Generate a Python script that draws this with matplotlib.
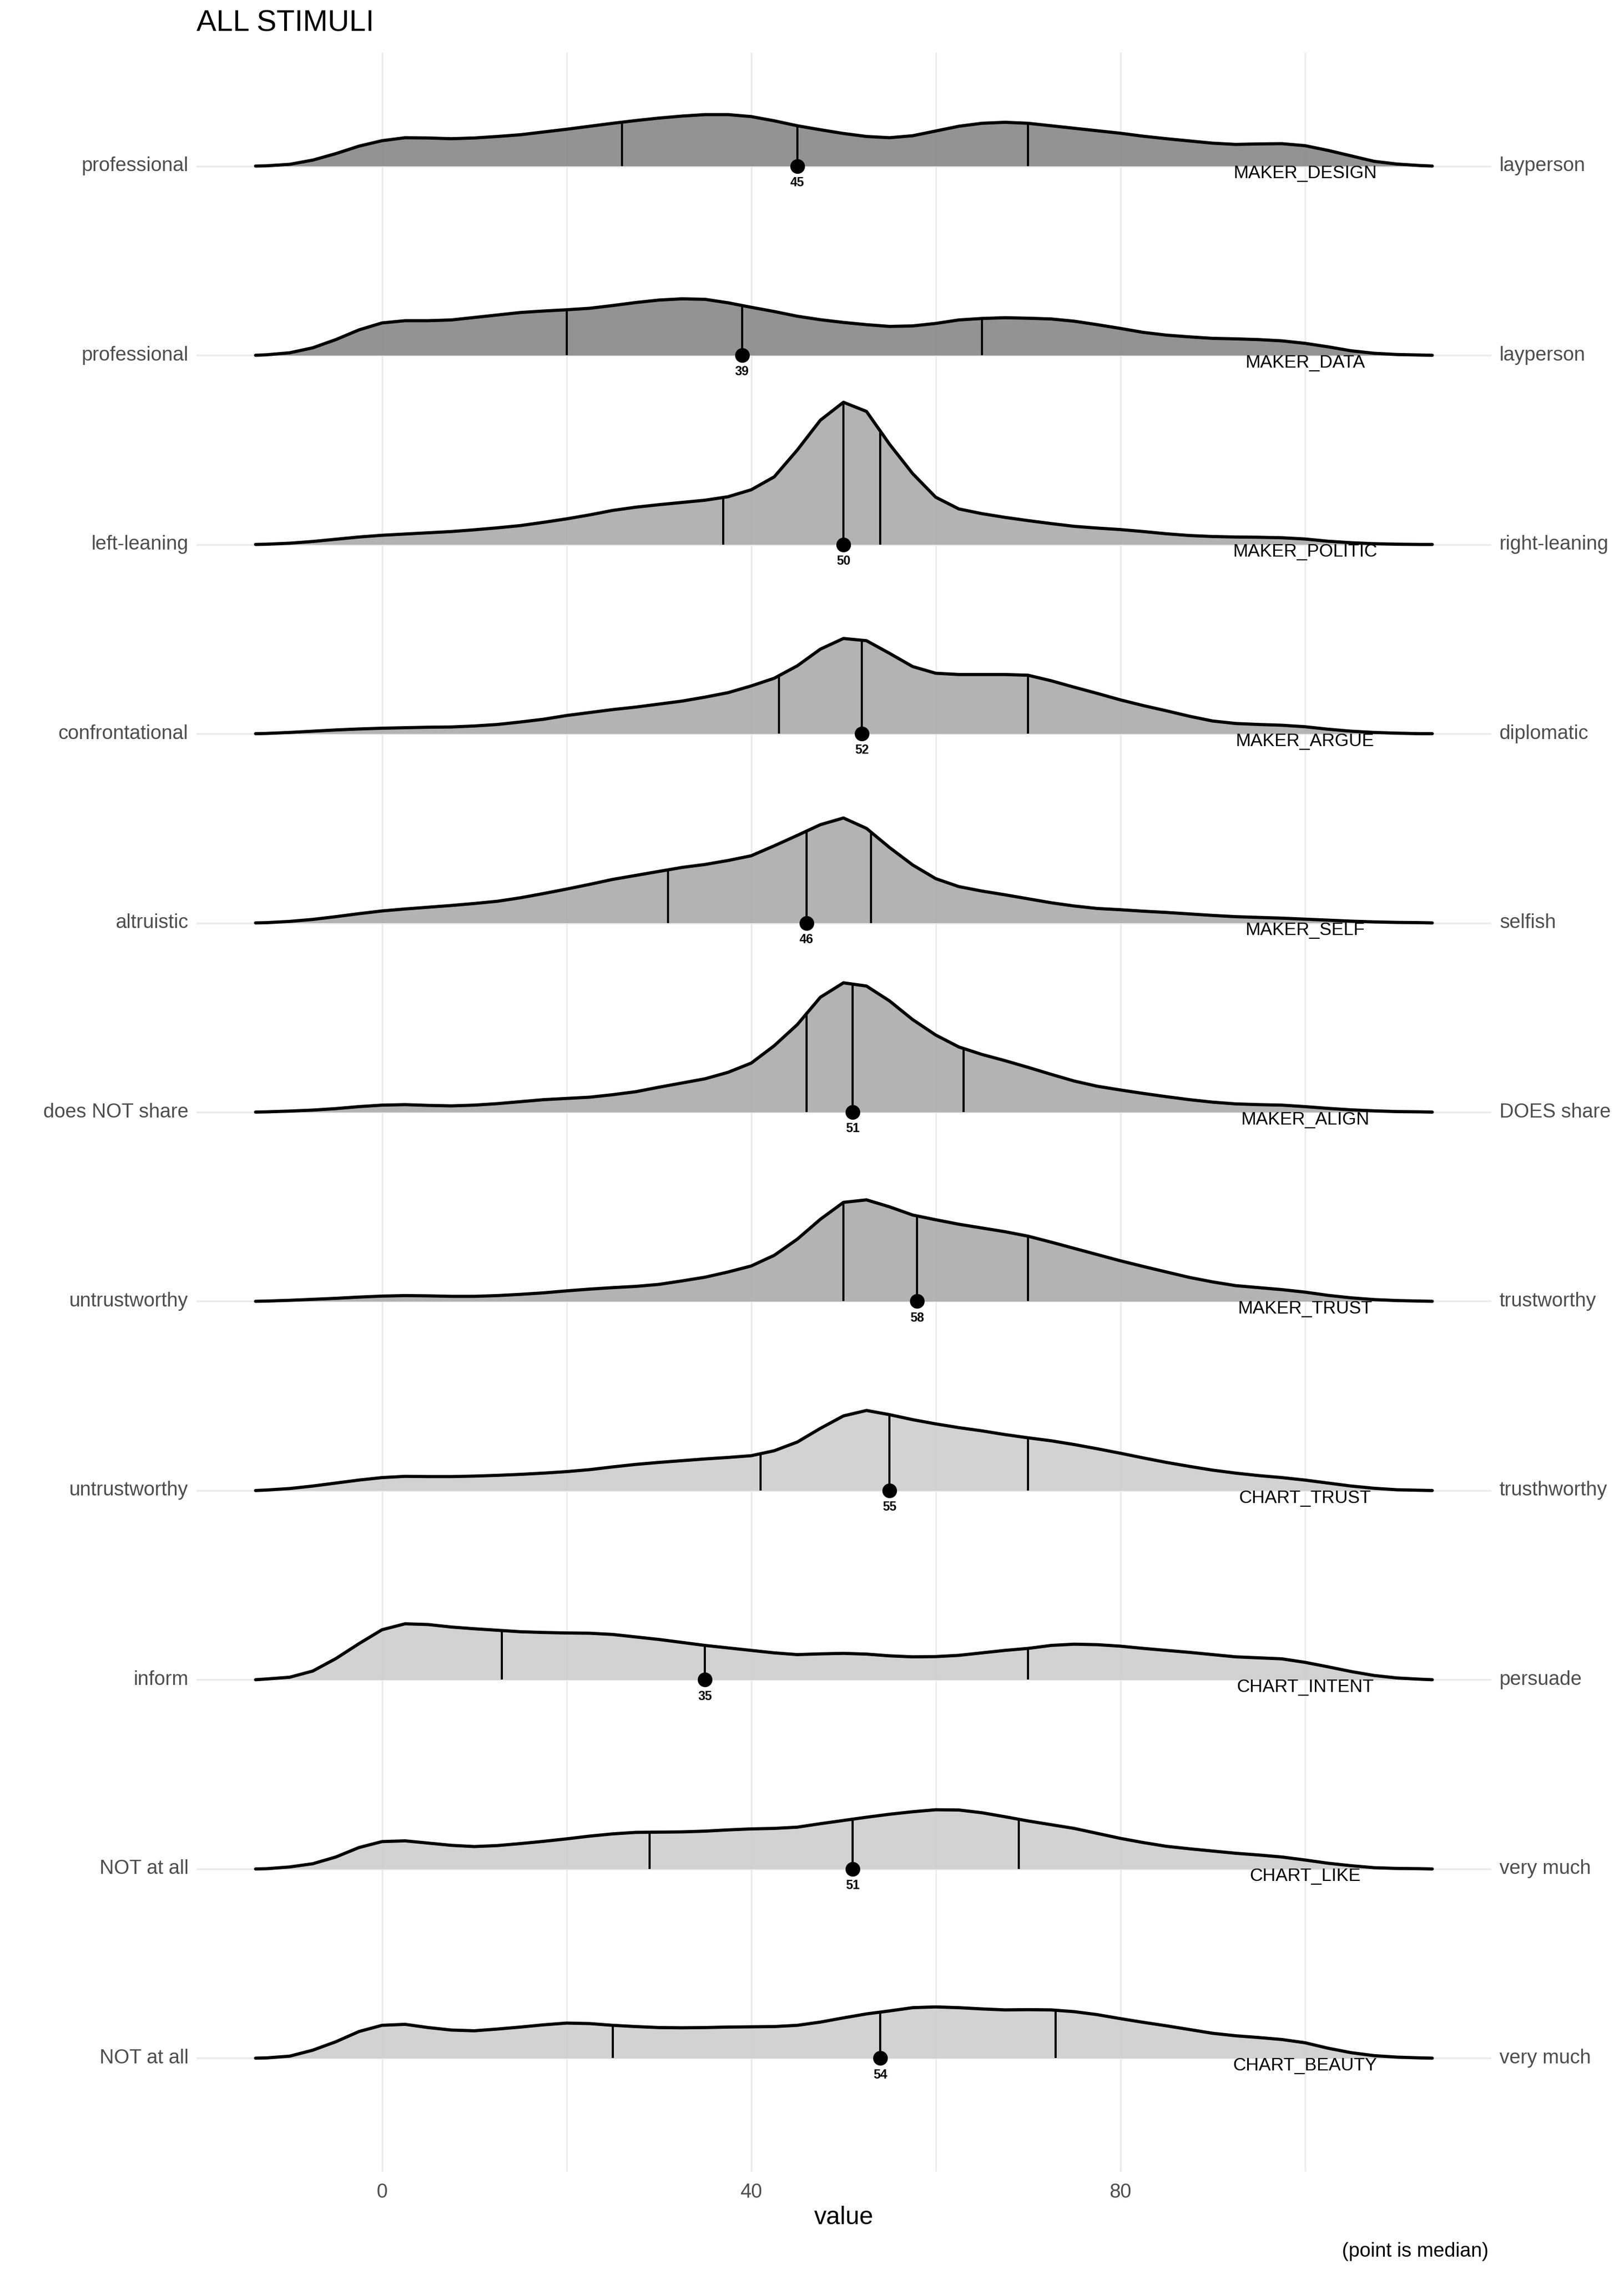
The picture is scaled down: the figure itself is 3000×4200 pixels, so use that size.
#!/usr/bin/env python3
"""
plot.py -- ridgeline chart of the stimulus ratings ("ALL STIMULI").
Densities, quartile lines and the median dot + label per scale, one row each.
"""
import matplotlib
matplotlib.use("Agg")
import matplotlib.pyplot as plt
import matplotlib.transforms as mtransforms
import numpy as np

plt.rcParams["font.family"] = ["Liberation Sans", "DejaVu Sans"]

# ---- data -------------------------------------------------------------------
SCALES = ["MAKER_DESIGN", "MAKER_DATA", "MAKER_POLITIC", "MAKER_ARGUE", "MAKER_SELF",
          "MAKER_ALIGN", "MAKER_TRUST", "CHART_TRUST", "CHART_INTENT", "CHART_LIKE",
          "CHART_BEAUTY"]
LOW_LABELS = ["professional", "professional", "left-leaning", "confrontational", "altruistic",
              "does NOT share", "untrustworthy", "untrustworthy", "inform", "NOT at all",
              "NOT at all"]
HIGH_LABELS = ["layperson", "layperson", "right-leaning", "diplomatic", "selfish",
               "DOES share", "trustworthy", "trusthworthy", "persuade", "very much",
               "very much"]
GROUP = ["maker_a", "maker_a", "maker_b", "maker_b", "maker_b", "maker_b", "maker_b",
         "chart", "chart", "chart", "chart"]

MEDIANS = [45, 39, 50, 52, 46, 51, 58, 55, 35, 51, 54]
Q1 = [26, 20, 37, 43, 31, 46, 50, 41, 13, 29, 25]
Q3 = [70, 65, 54, 70, 53, 63, 70, 70, 70, 69, 73]

# sample positions of the density curves
XS = [-13.7, -12.5, -10, -7.5, -5, -2.5, 0, 2.5, 5, 7.5, 10, 12.5, 15, 17.5, 20, 22.5,
      25, 27.5, 30, 32.5, 35, 37.5, 40, 42.5, 45, 47.5, 50, 52.5, 55, 57.5, 60, 62.5,
      65, 67.5, 70, 72.5, 75, 77.5, 80, 82.5, 85, 87.5, 90, 92.5, 95, 97.5, 100, 102.5,
      105, 107.5, 110, 112.5, 113.8]

# ridge heights (relative density units) at XS
maker_design = [0, 1, 7, 24, 50, 80, 102, 114, 113, 110, 113, 119, 126, 137, 148, 160, 172,
                183, 193, 201, 207, 207, 199, 182, 162, 146, 131, 119, 114, 122, 141, 160,
                172, 176, 172, 162, 152, 142, 132, 120, 110, 101, 92, 87, 89, 90, 82, 63,
                41, 19, 8, 2, 0]
maker_data = [0, 2, 10, 30, 63, 102, 130, 139, 139, 142, 152, 162, 172, 178, 183, 189, 200,
              212, 222, 227, 225, 211, 193, 176, 157, 143, 132, 123, 116, 118, 128, 142, 148,
              151, 149, 146, 137, 123, 108, 92, 81, 74, 68, 66, 63, 58, 48, 34, 18, 8, 3, 1,
              0]
maker_politic = [0, 1, 5, 12, 21, 30, 37, 42, 47, 52, 59, 67, 76, 89, 103, 119, 137, 150,
                 160, 169, 178, 192, 220, 272, 380, 500, 572, 535, 403, 285, 190, 143, 124,
                 109, 96, 84, 73, 66, 60, 52, 43, 36, 32, 30, 29, 27, 22, 13, 7, 3, 1, 0, 0]
maker_argue = [0, 1, 5, 10, 15, 19, 22, 24, 26, 27, 31, 37, 47, 58, 73, 85, 97, 107, 119,
               131, 147, 165, 192, 223, 273, 340, 383, 374, 323, 270, 243, 238, 238, 238,
               235, 213, 187, 162, 136, 113, 92, 70, 51, 41, 37, 34, 28, 18, 10, 5, 2, 0, 0]
maker_self = [0, 1, 6, 14, 25, 37, 48, 56, 63, 70, 78, 87, 101, 118, 136, 155, 175, 191, 207,
              223, 235, 251, 270, 310, 352, 395, 422, 380, 303, 233, 178, 146, 128, 113, 97,
              81, 68, 58, 53, 47, 42, 36, 30, 25, 22, 19, 15, 11, 7, 4, 2, 1, 0]
maker_align = [0, 1, 4, 8, 14, 22, 28, 30, 27, 25, 28, 34, 42, 50, 55, 60, 70, 82, 100, 117,
               134, 160, 197, 267, 352, 462, 520, 507, 447, 372, 310, 262, 232, 207, 180,
               152, 125, 104, 89, 75, 62, 50, 40, 33, 30, 28, 22, 15, 9, 5, 2, 1, 0]
maker_trust = [0, 1, 4, 8, 12, 17, 21, 23, 22, 20, 20, 23, 28, 34, 42, 49, 55, 60, 68, 82,
               97, 118, 142, 185, 250, 330, 398, 408, 380, 347, 328, 310, 295, 280, 262,
               238, 213, 188, 163, 140, 118, 96, 78, 63, 55, 47, 37, 24, 14, 7, 3, 1, 0]
chart_trust = [0, 2, 8, 18, 30, 42, 52, 57, 56, 56, 58, 61, 65, 70, 76, 84, 95, 105, 113,
               120, 127, 133, 140, 160, 195, 250, 300, 322, 305, 285, 268, 253, 240, 225,
               212, 200, 185, 168, 150, 131, 113, 97, 82, 70, 60, 52, 42, 30, 18, 9, 3, 1, 0]
chart_intent = [0, 3, 10, 35, 85, 145, 201, 225, 222, 212, 205, 199, 193, 190, 188, 187,
                182, 172, 162, 150, 138, 128, 118, 108, 101, 104, 106, 103, 96, 92, 93, 98,
                108, 118, 126, 138, 143, 141, 135, 126, 118, 110, 101, 92, 88, 84, 70, 52,
                33, 17, 7, 2, 0]
chart_like = [0, 1, 8, 21, 48, 86, 110, 113, 104, 95, 90, 94, 102, 111, 121, 132, 141, 147,
              148, 149, 152, 157, 161, 163, 168, 182, 195, 208, 220, 230, 238, 237, 226, 210,
              193, 178, 163, 143, 123, 106, 91, 81, 72, 63, 56, 48, 36, 23, 13, 5, 2, 1, 0]
chart_beauty = [0, 1, 8, 32, 66, 107, 132, 136, 123, 113, 110, 117, 125, 134, 141, 139, 132,
                127, 123, 122, 123, 125, 126, 127, 132, 145, 162, 178, 190, 203, 206, 203,
                198, 194, 195, 194, 187, 175, 159, 144, 130, 115, 100, 90, 83, 75, 62, 40, 22,
                10, 4, 1, 0]

HEIGHTS = [maker_design, maker_data, maker_politic, maker_argue, maker_self, maker_align,
           maker_trust, chart_trust, chart_intent, chart_like, chart_beauty]

# ---- style ------------------------------------------------------------------
FILLS = {"maker_a": "#878787", "maker_b": "#ababab", "chart": "#cdcdcd"}
GRID = "#ebebeb"
AXTXT = "#4d4d4d"
SCALE = 0.001314  # height units -> row spacing

fig = plt.figure(figsize=(10, 14), dpi=300)
ax = fig.add_axes([0.121, 0.045, 0.9183 - 0.121, 0.9769 - 0.045])
n = len(SCALES)
xs = np.array(XS)

for i, name in enumerate(SCALES):
    base = n - 1 - i
    h = np.array(HEIGHTS[i]) * SCALE
    ax.fill_between(xs, base, base + h, color=FILLS[GROUP[i]], alpha=0.9, lw=0, zorder=2)
    ax.plot(xs, base + h, color="black", lw=1.4, solid_joinstyle="round",
            solid_capstyle="round", zorder=3)
    for q in (Q1[i], MEDIANS[i], Q3[i]):
        top = np.interp(q, xs, h)
        ax.vlines(q, base, base + top, color="black", lw=0.95, zorder=3)
    ax.plot(MEDIANS[i], base, "o", ms=5.5, color="black", zorder=4)
    ax.text(MEDIANS[i], base - 0.055, f"{MEDIANS[i]}", ha="center", va="top",
            fontsize=5.6, fontweight="bold", zorder=5)
    ax.text(100, base + 0.004, name, ha="center", va="top", fontsize=8, zorder=5)

# scale end labels outside the panel
tr = mtransforms.blended_transform_factory(fig.transFigure, ax.transData)
for i in range(n):
    base = n - 1 - i
    ax.text(0.116, base, LOW_LABELS[i], transform=tr, ha="right", va="center",
            fontsize=8.8, color=AXTXT)
    ax.text(0.9233, base, HIGH_LABELS[i], transform=tr, ha="left", va="center",
            fontsize=8.8, color=AXTXT)

ax.set_xlim(-20.1, 120.2)
ax.set_ylim(-0.6, n - 1 + 0.6)
ax.set_xticks([0, 40, 80])
ax.set_xticks([20, 60, 100], minor=True)
ax.set_yticks(range(n))
ax.set_yticklabels([])
ax.grid(which="major", color=GRID, lw=0.8)
ax.grid(which="minor", axis="x", color=GRID, lw=0.6)
ax.set_axisbelow(True)
ax.tick_params(axis="both", which="both", length=0)
ax.tick_params(axis="x", pad=5, labelsize=8.8, labelcolor=AXTXT)
for s in ax.spines.values():
    s.set_visible(False)

fig.text(0.5197, 0.0248, "value", ha="center", va="center", fontsize=11)
fig.text(0.9167, 0.0100, "(point is median)", ha="right", va="center", fontsize=8.8)
fig.text(0.121, 0.9896, "ALL STIMULI", ha="left", va="center", fontsize=13.2)

fig.savefig("out.png", dpi=300)
